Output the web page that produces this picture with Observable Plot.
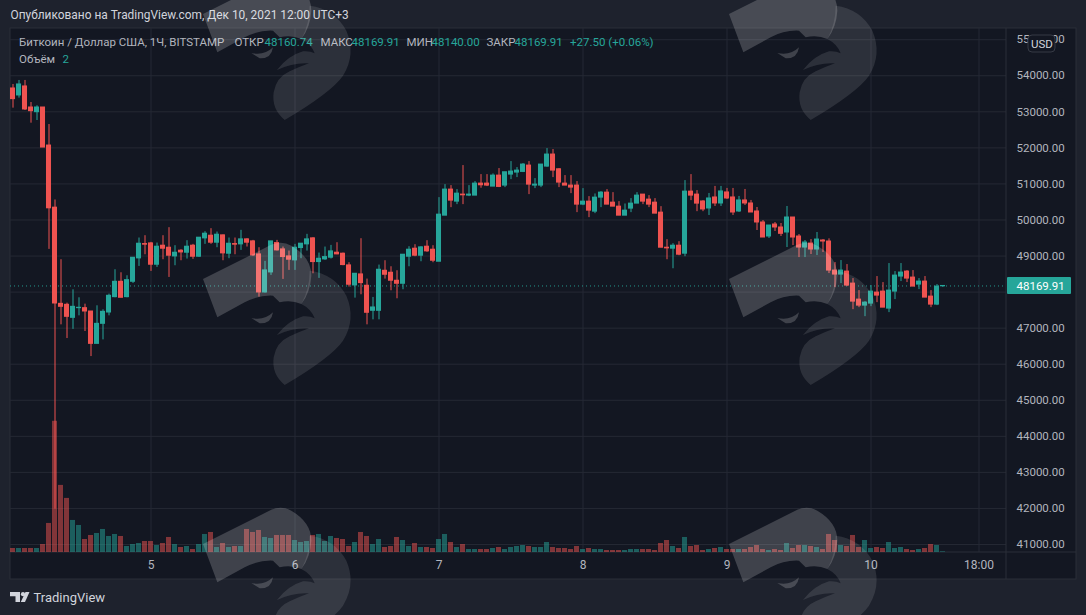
<!DOCTYPE html>
<html>
<head>
<meta charset="utf-8">
<script src="https://cdn.jsdelivr.net/npm/d3@7"></script>
<script src="https://cdn.jsdelivr.net/npm/@observablehq/plot@0.6"></script>
<style>
html,body{margin:0;padding:0;background:#1e222d;overflow:hidden}
svg{display:block}
</style>
</head>
<body>
<div id="chart"></div>
<script>
const opens = [53648,53454,53704,53120,52990,53120,52065,50342,47675,47648,47286,47555,47555,47462,46564,47120,47434,47860,48286,47860,48286,48935,49333,49351,48759,49287,49231,48990,49148,49092,49287,48981,49490,49564,49370,49574,49064,49333,49324,49463,49407,49046,47990,48546,49361,49185,48990,48880,49222,49324,49491,48833,48907,48954,49093,49065,48741,48185,48491,48176,47481,47481,48592,48537,48315,48231,48981,49204,49009,49259,49176,48842,50120,50843,50509,50704,50676,50676,51009,51009,50926,51231,50954,51259,51315,51333,51509,50954,50954,51481,51815,51407,51009,50954,50954,50426,50509,50231,50620,50759,50481,50370,50120,50315,50454,50704,50565,50481,50204,49231,49204,49287,49065,50787,50704,50514,50319,50625,50458,50764,50625,50236,50542,50458,50236,49931,49542,49875,49792,49653,50069,49542,49236,49347,49181,49431,49403,48597,48486,48569,48236,47792,47625,47681,47986,48014,47542,48014,48431,48569,48403,48208,48292,47875,47653,48160.74];
const highs = [53759,53870,53870,53259,53167,53120,52648,50555,48898,47694,48064,47842,47666,47462,47620,47509,47944,48620,48536,48453,48953,49500,49564,49379,49361,49564,49787,49287,49176,49426,49324,49509,49676,49759,49666,49583,49500,49500,49713,49481,49435,49231,48852,49407,49435,49250,49139,49324,49343,49602,49509,49083,49250,49296,49370,49083,48815,48509,49481,48361,47852,48750,48870,48703,48592,49037,49259,49315,49259,49426,49287,50620,50981,50954,50843,51509,50954,51065,51259,51259,51278,51426,51324,51620,51454,51565,51620,51148,51537,51981,51954,51426,51231,51231,51065,50870,50648,50722,50787,50843,50759,50509,50444,50593,50759,50704,50676,50593,50370,49454,49343,49398,51093,51259,50815,50537,50736,50931,50931,50875,50875,50653,50847,50542,50347,49986,49847,49931,49903,50375,50069,49597,49431,49458,49653,49458,49477,48819,48875,48764,48375,48042,47736,48181,48431,48264,48792,48569,48792,48597,48597,48375,48431,48042,48208,48169.91];
const lows = [53102,53380,53037,52685,52759,52009,49185,41980,47092,46712,46966,47342,46907,46212,46564,46675,47342,47842,47842,47842,48240,48712,49036,48574,48685,48898,48407,48731,48870,48916,48907,48963,49324,49324,49231,48870,48926,49036,49157,49250,48990,47861,47972,48463,49139,48352,48602,48602,48926,49139,48509,48380,48880,48917,49037,48731,48139,47833,47926,47092,47231,47231,48361,48037,47815,48065,48703,48981,48842,49102,48815,48842,50120,50342,50426,50426,50648,50676,50880,50926,50926,50898,50898,51120,51176,51315,50704,50870,50898,51463,51176,50898,50954,50731,50204,50398,50065,50176,50343,50426,50370,50120,50120,50204,50454,50426,50343,50176,49231,48898,48648,49009,48981,50537,50231,50231,50125,50375,50375,50569,50125,50208,50403,50208,49708,49514,49486,49681,49542,49236,49292,48958,48958,49042,49014,49097,48514,48125,48236,48153,47514,47569,47319,47597,47708,47569,47431,47792,48292,48264,48153,48069,47847,47569,47625,48140];
const closes = [53352,53759,53065,53018,53120,52009,50324,47684,47592,47314,47592,47565,47462,46564,47120,47453,47898,48286,47842,48332,48953,49342,49315,48759,49259,49203,49009,49092,49101,49259,48981,49509,49620,49370,49592,49074,49342,49315,49463,49370,49018,47990,48602,49407,49157,48972,48898,49231,49343,49463,48833,48926,48972,49130,49046,48750,48204,48509,48250,47426,47574,48620,48481,48315,48231,49037,49176,49009,49241,49130,48870,50148,50843,50537,50731,50685,50704,51009,50963,50954,51231,50917,51324,51343,51370,51537,50981,50981,51537,51815,51370,51037,50954,50898,50426,50509,50259,50620,50759,50426,50370,50120,50259,50454,50676,50509,50426,50176,49231,49213,49287,49037,50787,50676,50454,50292,50597,50458,50792,50597,50208,50542,50458,50208,49931,49514,49847,49792,49616,50069,49514,49236,49375,49181,49458,49403,48597,48486,48597,48181,47736,47625,47708,48014,47903,47569,48042,48458,48542,48375,48153,48292,47847,47653,48153,48169.91];
const volumes = [12,12,12,12,12,24,87,393,201,162,96,81,39,51,57,69,48,54,48,18,24,27,33,33,21,27,45,24,15,18,9,24,54,60,15,27,15,18,18,69,60,66,45,42,51,51,51,36,30,33,51,54,33,48,42,39,18,30,60,48,24,39,15,18,45,36,18,27,15,15,12,39,54,30,15,24,9,9,9,9,12,15,9,15,18,21,18,15,15,30,15,12,12,9,18,9,12,9,9,6,6,6,6,9,9,9,9,6,27,36,18,12,45,18,21,6,9,12,15,9,9,9,9,15,21,9,6,9,6,27,12,21,21,18,15,9,54,36,21,18,51,15,36,12,15,12,30,12,15,9,6,9,12,24,21,2];
const gridPrices = [41000,42000,43000,44000,45000,46000,47000,48000,49000,50000,51000,52000,53000,54000,55000];
const labelledPrices = [41000,42000,43000,44000,45000,46000,47000,49000,50000,51000,52000,53000,54000,55000];
const hourTicks = [23,47,71,95,119,143,161];
const hourLabels = ["5","6","7","8","9","10","18:00"];
const lastPrice = 48169.91;
const titleText = "Опубликовано на TradingView.com, Дек 10, 2021 12:00 UTC+3";
const legendRow1 = ["Биткоин / Доллар США, 1Ч, BITSTAMP","ОТКР","48160.74","МАКС","48169.91","МИН","48140.00","ЗАКР","48169.91","+27.50 (+0.06%)"];
const legendRow2 = ["Объём","2"];

const FONT = "Roboto, 'Liberation Sans', sans-serif";
const UP = "#26a69a", DOWN = "#ef5350", TXT = "#b2b5be", GRID = "#252934", BORDER = "#2a2e39", PANE = "#131722";
const W = 1086, H = 615, L = 10, R = 1006, T = 28, B = 552;
const yMin = 40778, yMax = 55311;
const volumeToPrice = 9.26;
const candles = opens.map((o,i)=>({i,o,h:highs[i],l:lows[i],c:closes[i],v:volumes[i],col:closes[i]>=o?UP:DOWN}));

const legendX1 = [18.5,234,264,320,351,406,431,486,514,569.5];
const legendCol1 = [TXT,TXT,UP,TXT,UP,TXT,UP,TXT,UP,UP];
const label = (text,x,y,fill,size=11.5,anchor="start") =>
  Plot.text([text],{text:d=>d,frameAnchor:"top-left",dx:x-L,dy:y-T,fill,fontSize:size,textAnchor:anchor,lineAnchor:"middle"});

function backdrop(index,scales){
  const g = d3.create("svg:g");
  g.append("rect").attr("x",L).attr("y",T).attr("width",1076-L).attr("height",579-T).attr("fill",PANE).attr("stroke",BORDER);
  return g.node();
}
function axisLines(index,scales){
  const g = d3.create("svg:g").attr("stroke",BORDER);
  g.append("line").attr("x1",L).attr("x2",1076).attr("y1",B).attr("y2",B);
  g.append("line").attr("x1",R).attr("x2",R).attr("y1",T).attr("y2",579);
  return g.node();
}
function priceBadges(index,scales){
  const g = d3.create("svg:g");
  const py = scales.y(lastPrice);
  g.append("rect").attr("x",1007).attr("y",py-8.5).attr("width",64).attr("height",17).attr("rx",1).attr("fill",UP);
  g.append("rect").attr("x",1028).attr("y",35).attr("width",27).attr("height",17).attr("rx",4).attr("fill",PANE).attr("stroke","#363a45");
  return g.node();
}
function tvLogo(){
  const g = d3.create("svg:g").attr("fill","#d1d4dc");
  g.append("path").attr("d","M10,592H20V602H15.5V596.3H10Z");
  g.append("circle").attr("cx",23).attr("cy",594.2).attr("r",2.1);
  g.append("path").attr("d","M29.5,592L25,602H20.8L25.5,592Z");
  return g.node();
}
function watermark(){
  const g = d3.create("svg:g").attr("pointer-events","none");
  const upper = "M0,0L190,-95Q230,-120 265,-100Q325,-65 325,-10Q322,40 295,75Q265,62 230,70L210,50Q165,48 125,70L43,115Z";
  const lower = "M320,-25Q395,-15 430,50Q460,120 420,185Q385,235 245,318Q205,285 212,235Q220,190 260,172Q290,158 318,148Q270,145 222,168Q255,125 300,112Q320,110 335,118Q325,90 295,75Q320,30 320,-25Z";
  const eye = "M145,117Q185,125 210,100Q205,135 170,133Z";
  for (const x of [203,729]) for (const y of [14,279,544]) {
    const m = g.append("g").attr("transform",`translate(${x},${y}) scale(${1/3})`);
    m.append("path").attr("d",upper).attr("fill","rgba(255,255,255,0.19)");
    m.append("path").attr("d",lower).attr("fill","rgba(255,255,255,0.11)");
    m.append("path").attr("d",eye).attr("fill","rgba(255,255,255,0.19)");
  }
  return g.node();
}

const chart = Plot.plot({
  width:W, height:H,
  marginLeft:L, marginRight:W-R, marginTop:T, marginBottom:H-B,
  style:{background:"transparent",fontFamily:FONT,fontSize:"12px",overflow:"hidden"},
  x:{type:"linear",domain:[-0.4167,165.5833]},
  y:{type:"linear",domain:[yMin,yMax]},
  marks:[
    backdrop,
    Plot.gridX(hourTicks,{stroke:GRID,strokeOpacity:1}),
    Plot.gridY(gridPrices,{stroke:GRID,strokeOpacity:1}),
    axisLines,
    Plot.rect(candles,{x1:d=>d.i-0.42,x2:d=>d.i+0.42,y1:yMin,y2:d=>yMin+d.v*volumeToPrice,fill:"col",fillOpacity:0.5,clip:true}),
    Plot.ruleY([lastPrice],{stroke:UP,strokeDasharray:"1 3",strokeWidth:1,strokeOpacity:.9}),
    Plot.ruleX(candles,{x:"i",y1:"l",y2:"h",stroke:"col",strokeWidth:1,clip:true}),
    Plot.rect(candles,{x1:d=>d.i-0.42,x2:d=>d.i+0.42,y1:"o",y2:"c",fill:"col",insetTop:-0.5,insetBottom:-0.5,clip:true}),
    Plot.axisX({ticks:hourTicks,tickFormat:d=>hourLabels[hourTicks.indexOf(d)],tickSize:0,tickPadding:7.5,label:null,anchor:"bottom",fill:TXT,fontSize:12}),
    Plot.axisY({ticks:labelledPrices,tickFormat:d=>d.toFixed(2),tickSize:0,tickPadding:10,label:null,anchor:"right",fill:TXT,fontSize:11.5}),
    priceBadges,
    Plot.text([lastPrice],{y:d=>d,text:d=>d.toFixed(2),frameAnchor:"right",dx:10,textAnchor:"start",fill:"#ffffff",fontSize:11.5}),
    label("USD",1041.5,43.5,"#d1d4dc",11.5,"middle"),
    label(titleText,10,15,"#d1d4dc",11.9),
    ...legendRow1.map((t,i)=>label(t,legendX1[i],41.5,legendCol1[i])),
    label(legendRow2[0],18.5,59,TXT),
    label(legendRow2[1],62,59,UP),
    tvLogo,
    label("TradingView",33,597.5,"#d1d4dc",13),
    watermark
  ]
});
document.getElementById("chart").appendChild(chart);
</script>
</body>
</html>
